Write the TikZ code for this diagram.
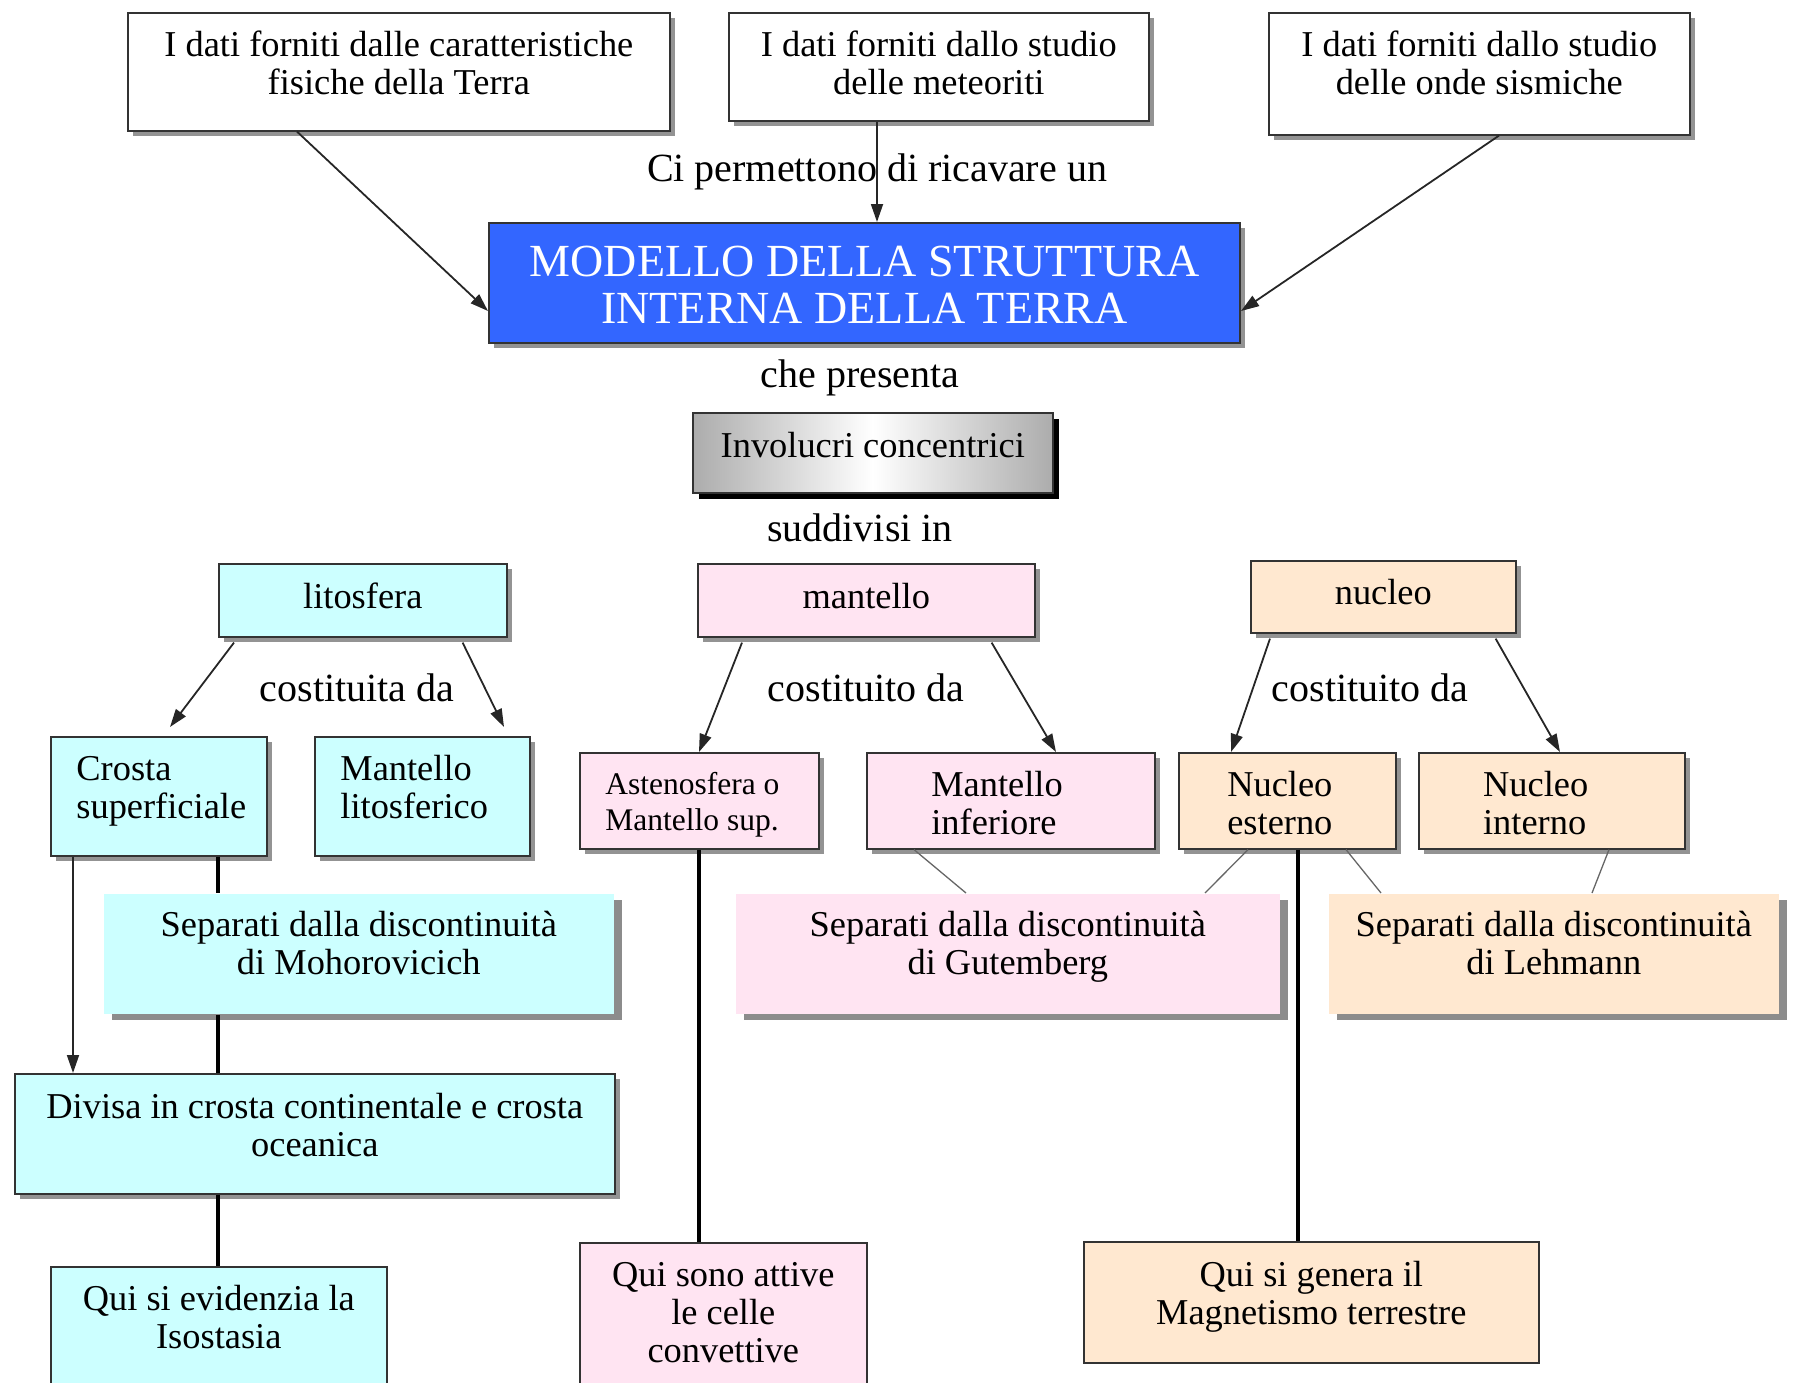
\documentclass[tikz,border=0pt]{standalone}
\usepackage{fontspec}
\setmainfont{Liberation Serif}
\usepackage{tikz}
\usetikzlibrary{arrows.meta, shadows}
\definecolor{modblue}{RGB}{51,102,255}
\definecolor{litocyan}{RGB}{204,255,255}
\definecolor{mantpink}{RGB}{255,228,242}
\definecolor{nucpeach}{RGB}{255,232,208}
\tikzstyle{concept} = [rectangle, anchor=north west, draw=black!80, line width=1.6pt, align=flush center, inner sep=0pt, text height=44pt, font=\fontsize{36.4}{38}\selectfont]
\tikzstyle{shade} = [drop shadow={shadow xshift=5pt, shadow yshift=-5pt, fill=gray!85, opacity=1}]
\tikzstyle{sepshade} = [drop shadow={shadow xshift=8pt, shadow yshift=-6pt, fill=gray!90, opacity=1}]
\tikzstyle{mainbox} = [concept, shade, fill=modblue, text=white, line width=2pt, font=\fontsize{46}{47}\selectfont]
\tikzstyle{shellbox} = [concept, left color=gray!65, right color=gray!65, middle color=white, drop shadow={shadow xshift=6pt, shadow yshift=-6pt, fill=black, opacity=1}]
\tikzstyle{lito} = [concept, fill=litocyan]
\tikzstyle{mant} = [concept, fill=mantpink]
\tikzstyle{nuc} = [concept, fill=nucpeach]
\tikzstyle{linkword} = [inner sep=0pt, font=\fontsize{40}{42}\selectfont]
\tikzstyle{arrow} = [line width=1.8pt, draw=black!85, -{Triangle[length=18pt,width=12pt]}]
\tikzstyle{stem} = [line width=3.5pt, draw=black]
\tikzstyle{thinlink} = [line width=1.3pt, draw=black!60]
\begin{document}
\begin{tikzpicture}[x=1pt, y=-1pt]
\useasboundingbox (0,0) rectangle (1799,1382);
\clip (0,0) rectangle (1799,1382);

% sources of data
\node (datiFisici) [concept, shade, fill=white, text width=542pt, text depth=74pt] at (127,12) {I dati forniti dalle caratteristiche\\fisiche della Terra};
\node (datiMeteo) [concept, shade, fill=white, text width=420pt, text depth=64pt] at (728,12) {I dati forniti dallo studio\\delle meteoriti};
\node (datiSismi) [concept, shade, fill=white, text width=421pt, text depth=78pt] at (1268,12) {I dati forniti dallo studio\\delle onde sismiche};
\node (modello) [mainbox, text width=751pt, text height=53pt, text depth=67pt] at (488,222) {MODELLO DELLA STRUTTURA\\INTERNA DELLA TERRA};
\node (presenta) [linkword] at (860,378) {che presenta};
\node (involucri) [shellbox, text width=360pt, text height=45pt, text depth=35pt] at (692,412) {Involucri concentrici};
\node (suddivisi) [linkword] at (860,528) {suddivisi in};

% the three shells
\node (litosfera) [lito, shade, text width=288pt, text height=45pt, text depth=28pt] at (218,563) {litosfera};
\node (mantello) [mant, shade, text width=337pt, text height=45pt, text depth=28pt] at (697,563) {mantello};
\node (nucleo) [nuc, shade, text width=265pt, text depth=28pt] at (1250,560) {nucleo};
\node (costLito) [linkword] at (357,688) {costituita da};
\node (costMant) [linkword] at (866,688) {costituito da};
\node (costNuc) [linkword] at (1370,688) {costituito da};

% parts
\node (crosta) [lito, shade, align=flush left, inner xsep=25.6pt, text width=164.8pt, text depth=75pt] at (50,736) {Crosta\\superficiale};
\node (mantLito) [lito, shade, align=flush left, inner xsep=25.6pt, text width=163.8pt, text depth=75pt] at (314,736) {Mantello\\litosferico};
\node (asteno) [mant, shade, align=flush left, inner xsep=25.6pt, text width=187.8pt, text height=42pt, text depth=54pt, font=\fontsize{31.5}{35.6}\selectfont] at (579,752) {Astenosfera o\\Mantello sup.};
\node (mantInf) [mant, shade, align=flush left, inner xsep=64.5pt, text width=159pt, text depth=52pt] at (866,752) {Mantello\\inferiore};
\node (nucEst) [nuc, shade, align=flush left, inner xsep=48.5pt, text width=120pt, text depth=52pt] at (1178,752) {Nucleo\\esterno};
\node (nucInt) [nuc, shade, align=flush left, inner xsep=64.3pt, text width=137.4pt, text depth=52pt] at (1418,752) {Nucleo\\interno};

% discontinuities
\node (moho) [lito, sepshade, draw=none, text width=510pt, text height=43pt, text depth=77pt] at (103,893) {Separati dalla discontinuità\\di Mohorovicich};
\node (gutem) [mant, sepshade, draw=none, text width=544pt, text height=43pt, text depth=77pt] at (735,893) {Separati dalla discontinuità\\di Gutemberg};
\node (lehm) [nuc, sepshade, draw=none, text width=450pt, text height=43pt, text depth=77pt] at (1328,893) {Separati dalla discontinuità\\di Lehmann};
\node (divisa) [lito, shade, text width=600pt, text height=45pt, text depth=75pt] at (14,1073) {Divisa in crosta continentale e crosta\\oceanica};

% notes
\node (isostasia) [lito, text width=336pt, text depth=100pt] at (50,1266) {Qui si evidenzia la\\Isostasia};
\node (celle) [mant, text width=287pt, text depth=120pt] at (579,1242) {Qui sono attive\\le celle\\convettive};
\node (magnet) [nuc, text width=455pt, text height=45pt, text depth=76pt] at (1083,1241) {Qui si genera il\\Magnetismo terrestre};

\draw [arrow] ([xshift=170pt]datiFisici.south west) -- ([yshift=-28pt]modello.west);
\draw [arrow] ([xshift=149pt]datiMeteo.south west) -- node[linkword] {Ci permettono di ricavare un} ([xshift=149pt]datiMeteo.south west |- modello.north);
\draw [arrow] ([xshift=231pt]datiSismi.south west) -- ([yshift=-28pt]modello.east);

\draw [arrow] ([xshift=16pt, yshift=-5pt]litosfera.south west) -- ([xshift=120pt, yshift=9pt]crosta.north west);
\draw [arrow] ([xshift=-45pt, yshift=-5pt]litosfera.south east) -- ([xshift=190pt, yshift=9pt]mantLito.north west);
\draw [arrow] ([xshift=45pt, yshift=-5pt]mantello.south west) -- ([xshift=120pt]asteno.north west);
\draw [arrow] ([xshift=-44pt, yshift=-5pt]mantello.south east) -- ([xshift=190pt]mantInf.north west);
\draw [arrow] ([xshift=20pt, yshift=-5pt]nucleo.south west) -- ([xshift=53pt]nucEst.north west);
\draw [arrow] ([xshift=-21pt, yshift=-5pt]nucleo.south east) -- ([xshift=142pt]nucInt.north west);

\draw [arrow] ([xshift=23pt]crosta.south west) -- ([xshift=23pt]crosta.south west |- divisa.north);
\draw [stem] ([xshift=168pt]crosta.south west) -- ([xshift=168pt]crosta.south west |- moho.north);
\draw [stem] ([xshift=115pt]moho.south west) -- ([xshift=115pt]moho.south west |- divisa.north);
\draw [stem] ([xshift=204pt]divisa.south west) -- ([xshift=204pt]divisa.south west |- isostasia.north);
\draw [stem] ([xshift=120pt]asteno.south west) -- ([xshift=120pt]asteno.south west |- celle.north);
\draw [stem] ([xshift=120pt]nucEst.south west) -- ([xshift=120pt]nucEst.south west |- magnet.north);

\draw [thinlink] ([xshift=48pt]mantInf.south west) -- ([xshift=231pt]gutem.north west);
\draw [thinlink] ([xshift=70pt]nucEst.south west) -- ([xshift=470pt]gutem.north west);
\draw [thinlink] ([xshift=168pt]nucEst.south west) -- ([xshift=53pt]lehm.north west);
\draw [thinlink] ([xshift=191pt]nucInt.south west) -- ([xshift=264pt]lehm.north west);
\end{tikzpicture}
\end{document}
